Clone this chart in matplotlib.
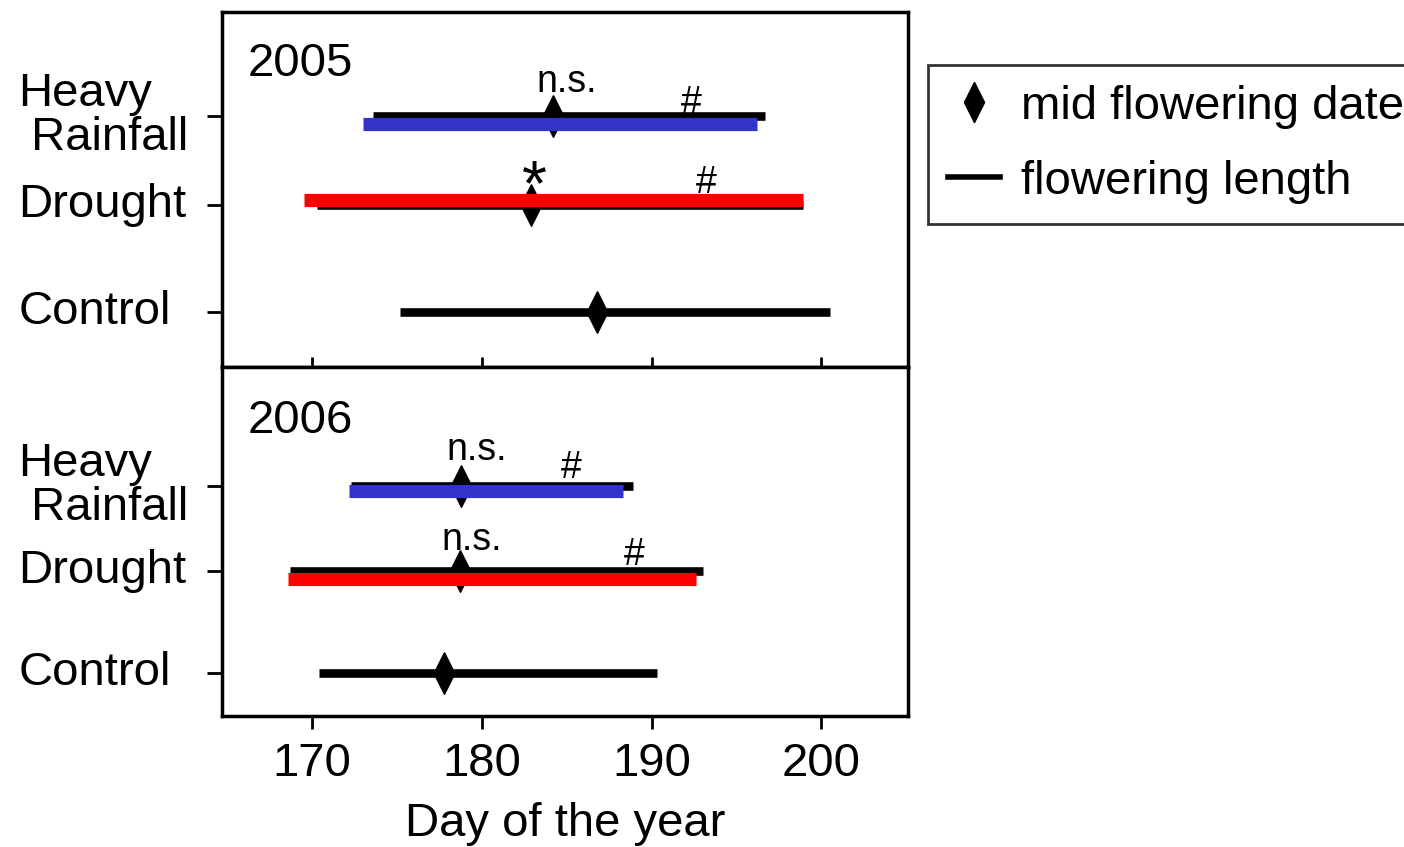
import numpy as np
import matplotlib.pyplot as plt
from matplotlib.lines import Line2D

plt.rcParams['font.family'] = ['Liberation Sans', 'DejaVu Sans']

years = ['2005', '2006']
treatments = ['Control', 'Drought', 'Heavy\n Rainfall']

# flowering length (black bars) and mid flowering date: Control, Drought, Heavy Rainfall
start_2005 = [175.2, 170.3, 173.6]
end_2005 = [200.5, 198.9, 196.7]
mid_2005 = [186.8, 182.9, 184.2]
start_2006 = [170.4, 168.7, 172.3]
end_2006 = [190.3, 193.0, 188.9]
mid_2006 = [177.8, 178.7, 178.8]

# coloured bars: Drought, Heavy Rainfall
treat_start_2005 = [169.5, 173.0]
treat_end_2005 = [198.9, 196.2]
treat_start_2006 = [168.6, 172.2]
treat_end_2006 = [192.6, 188.3]
treat_colors = ['#ff0000', '#3333cc']

# significance marks (text, day, y)
marks_2005 = [('n.s.', 185.0, 2.06), ('#', 192.35, 1.86), ('*', 183.1, 1.0), ('#', 193.2, 1.11)]
marks_2006 = [('n.s.', 179.7, 2.09), ('#', 185.25, 1.91), ('n.s.', 179.4, 1.21), ('#', 188.95, 1.06)]

# layout
ypos = [0, 1, 1.83]
ylims = [(-0.514, 2.804), (-0.42, 3.0)]
treat_offsets = [[0.047, -0.075], [-0.08, -0.05]]
diamond = [(0, 1), (0.5, 0), (0, -1), (-0.5, 0), (0, 1)]

W, H = 1404, 847
fig = plt.figure(figsize=(W / 100, H / 100), dpi=100)
left, right = 222 / W, 908 / W
ax1 = fig.add_axes([left, 1 - 367 / H, right - left, 355 / H])
ax2 = fig.add_axes([left, 1 - 716 / H, right - left, 349 / H])

data = [
    (start_2005, end_2005, mid_2005, treat_start_2005, treat_end_2005, marks_2005),
    (start_2006, end_2006, mid_2006, treat_start_2006, treat_end_2006, marks_2006),
]

for k, ax in enumerate([ax1, ax2]):
    st, en, md, tst, ten, marks = data[k]
    for i in range(3):
        ax.plot([st[i], en[i]], [ypos[i], ypos[i]], color='black', lw=6.2,
                solid_capstyle='butt', zorder=2)
        ax.plot(md[i], ypos[i], marker=diamond, color='black', markersize=30,
                linestyle='none', zorder=3)
    for j in range(2):
        y = ypos[j + 1] + treat_offsets[k][j]
        ax.plot([tst[j], ten[j]], [y, y], color=treat_colors[j], lw=9.5,
                solid_capstyle='butt', zorder=4)
    for txt, x, y in marks:
        fs = 46 if txt == '*' else 27
        ax.text(x, y, txt, ha='center', va='baseline', fontsize=fs, zorder=5)

    ax.text(0.038, 0.82 if k == 0 else 0.81, years[k], transform=ax.transAxes,
            fontsize=34, va='baseline', ha='left')

    ax.set_xlim(164.7, 205.1)
    ax.set_ylim(*ylims[k])
    ax.set_xticks([170, 180, 190, 200])
    ax.set_yticks(ypos)
    ax.set_yticklabels([])
    ax.tick_params(axis='y', direction='out', length=11, width=2)
    for s in ax.spines.values():
        s.set_linewidth(2.5)
    for i, lab in enumerate(treatments):
        ax.text(-0.297, ypos[i], lab, transform=ax.get_yaxis_transform(),
                fontsize=34, ha='left', va='center', linespacing=1.0)

ax1.tick_params(axis='x', direction='inout', length=15, width=2, labelbottom=False)
ax2.tick_params(axis='x', direction='out', length=9, width=2, labelsize=34, pad=10)
ax2.set_xlabel('Day of the year', fontsize=34, labelpad=11)

handles = [
    Line2D([], [], marker=diamond, color='black', linestyle='none', markersize=29),
    Line2D([], [], color='black', lw=4),
]
leg = fig.legend(handles, ['mid flowering date', 'flowering length'],
                 loc='upper left', bbox_to_anchor=(928 / W, 1 - 65 / H),
                 borderaxespad=0, fancybox=False, edgecolor='#333333',
                 framealpha=1, fontsize=34, handlelength=1.1,
                 handletextpad=0.45, borderpad=0.42, labelspacing=0.66)
leg.get_frame().set_linewidth(2)

fig.savefig('out.png', dpi=100)
